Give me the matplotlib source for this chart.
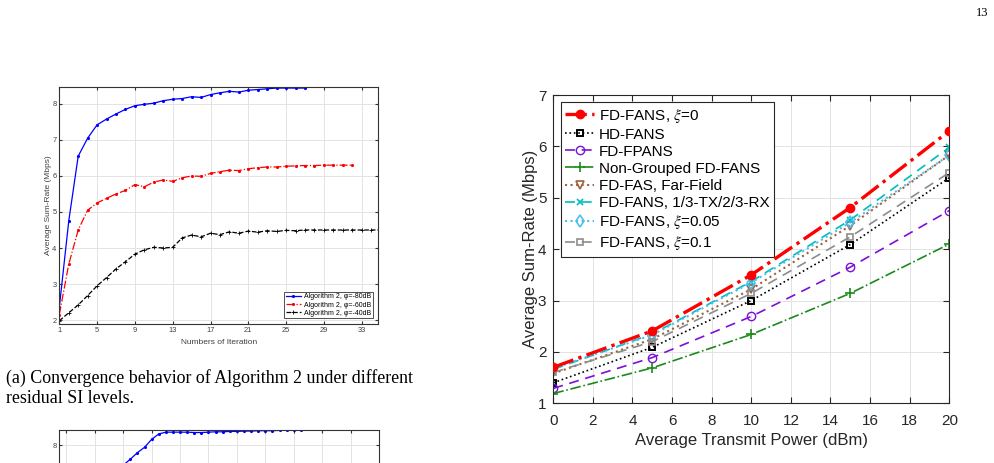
import matplotlib
matplotlib.use('Agg')
import matplotlib.pyplot as plt

plt.rcParams['font.family'] = ['Liberation Sans', 'DejaVu Sans']
plt.rcParams['mathtext.fontset'] = 'stix'

# ---------------- data: convergence (top-left) ----------------
iters_80 = list(range(1, 28))
rate_80 = [2.35, 4.75, 6.55, 7.05, 7.42, 7.58, 7.72, 7.85, 7.95, 7.99, 8.02, 8.09, 8.13, 8.15,
           8.20, 8.18, 8.26, 8.31, 8.35, 8.33, 8.38, 8.40, 8.42, 8.44, 8.44, 8.44, 8.44]
iters_60 = list(range(1, 33))
rate_60 = [2.15, 3.55, 4.50, 5.05, 5.25, 5.38, 5.50, 5.60, 5.76, 5.70, 5.83, 5.89, 5.85, 5.95,
           6.00, 5.99, 6.07, 6.12, 6.16, 6.15, 6.20, 6.23, 6.25, 6.25, 6.27, 6.28, 6.29, 6.29,
           6.30, 6.30, 6.30, 6.30]
iters_40 = list(range(1, 36))
rate_40 = [1.98, 2.20, 2.42, 2.68, 2.95, 3.18, 3.42, 3.62, 3.83, 3.95, 4.02, 4.00, 4.02, 4.28,
           4.36, 4.31, 4.41, 4.37, 4.45, 4.41, 4.47, 4.44, 4.48, 4.46, 4.49, 4.48, 4.50, 4.50,
           4.50, 4.50, 4.50, 4.50, 4.50, 4.50, 4.50]
conv_labels = ['Algorithm 2, \u03c6=-80dB', 'Algorithm 2, \u03c6=-60dB', 'Algorithm 2, \u03c6=-40dB']
conv_xticks = [1, 5, 9, 13, 17, 21, 25, 29, 33]
conv_yticks = [2, 3, 4, 5, 6, 7, 8]

# ---------------- data: second convergence plot (cut off at bottom) ----------------
iters_b = list(range(8, 35))
rate_b = [7.20, 7.45, 7.62, 7.80, 7.95, 8.17, 8.32, 8.37, 8.37, 8.37, 8.37, 8.36, 8.36, 8.37,
          8.38, 8.38, 8.39, 8.39, 8.40, 8.40, 8.41, 8.41, 8.41, 8.42, 8.42, 8.42, 8.42]
b_xticks = [1, 5, 9, 13, 17, 21, 25, 29, 33, 37, 41]
b_yticks = [8]

# ---------------- data: sum-rate vs power (right) ----------------
power = [0, 5, 10, 15, 20]
fd_fans_0 = [1.70, 2.41, 3.50, 4.81, 6.30]
hd_fans = [1.40, 2.09, 3.00, 4.09, 5.39]
fd_fpans = [1.29, 1.89, 2.69, 3.65, 4.75]
nongrouped = [1.19, 1.69, 2.34, 3.14, 4.10]
fd_fas_ff = [1.58, 2.25, 3.22, 4.46, 5.83]
fd_fans_13 = [1.66, 2.35, 3.37, 4.57, 5.98]
fd_fans_005 = [1.68, 2.33, 3.35, 4.52, 5.83]
fd_fans_01 = [1.60, 2.20, 3.14, 4.24, 5.49]
series_labels = ['FD-FANS, $\\xi$=0', 'HD-FANS', 'FD-FPANS', 'Non-Grouped FD-FANS',
                 'FD-FAS, Far-Field', 'FD-FANS, 1/3-TX/2/3-RX', 'FD-FANS, $\\xi$=0.05',
                 'FD-FANS, $\\xi$=0.1']
right_xticks = [0, 2, 4, 6, 8, 10, 12, 14, 16, 18, 20]
right_yticks = [1, 2, 3, 4, 5, 6, 7]

W, H = 995, 463
fig = plt.figure(figsize=(W / 100, H / 100), dpi=100)


def frac(x0, y0, x1, y1):
    return [x0 / W, 1 - y1 / H, (x1 - x0) / W, (y1 - y0) / H]


def matlab_style(ax, fs, spine_c='#262626', tick_c='#404040', lw=0.8, tlen=3, xpad=2, ypad=2):
    for s in ax.spines.values():
        s.set_color(spine_c)
        s.set_linewidth(lw)
    ax.tick_params(direction='in', top=True, right=True, length=tlen, width=lw,
                   labelsize=fs, labelcolor=tick_c, color=spine_c)
    ax.tick_params(axis='x', pad=xpad)
    ax.tick_params(axis='y', pad=ypad)
    ax.grid(True, color='#e3e3e3', linewidth=0.7)
    ax.set_axisbelow(True)


# ---------- top-left ----------
ax1 = fig.add_axes(frac(59.3, 87, 378, 324))
ax1.plot(iters_80, rate_80, '-', color='#0000ff', lw=0.9, marker='.', ms=2.5, label=conv_labels[0])
ax1.plot(iters_60, rate_60, '-.', color='#ff0000', lw=0.9, marker='.', ms=2.5, label=conv_labels[1])
ax1.plot(iters_40, rate_40, '--', color='black', lw=0.9, marker='+', ms=2.5, mew=0.6, label=conv_labels[2])
ax1.set_xlim(1, 34.72)
ax1.set_ylim(1.89, 8.47)
ax1.set_xticks(conv_xticks)
ax1.set_yticks(conv_yticks)
matlab_style(ax1, 5.4, spine_c='#333333', tlen=2.5)
ax1.set_xlabel('Numbers of Iteration', fontsize=6, color='#404040', labelpad=3.5)
ax1.set_ylabel('Average Sum-Rate (Mbps)', fontsize=6, color='#404040', labelpad=0)
lg1 = ax1.legend(loc='lower right', bbox_to_anchor=(0.983, 0.024), borderaxespad=0, fontsize=5,
                 handlelength=2.2, handletextpad=0.4, labelspacing=0.15, borderpad=0.25,
                 frameon=True, fancybox=False, edgecolor='#333333', framealpha=1)
lg1.get_frame().set_linewidth(0.6)

# ---------- bottom-left (cut off) ----------
ax2 = fig.add_axes(frac(59.3, 430, 379, 430 + 236))
ax2.plot(iters_b, rate_b, '-', color='#0000ff', lw=0.9, marker='.', ms=2.5)
ax2.set_xlim(0, 45)
ax2.set_ylim(1.87, 8.43)
ax2.set_xticks(b_xticks)
ax2.set_yticks(b_yticks)
matlab_style(ax2, 5.4, spine_c='#333333', tlen=2.5)
ax2.tick_params(axis='x', labelbottom=False)

# ---------- right ----------
ax3 = fig.add_axes(frac(553.3, 95, 949.3, 403.3))
ax3.plot(power, fd_fans_0, '-.', color='#ff0000', lw=2.4, marker='o', ms=6, mfc='#ff0000', label=series_labels[0], zorder=10)
ax3.plot(power, hd_fans, ':', color='black', lw=1.2, marker='s', ms=5, mfc='none', mew=1.4, label=series_labels[1])
ax3.plot(power, fd_fpans, color='#7d10d8', lw=1.2, dashes=(6, 4), marker='o', ms=6, mfc='none', mew=1.0, label=series_labels[2])
ax3.plot(power, nongrouped, '-.', color='#1a8a1a', lw=1.2, marker='+', ms=7, mew=1.2, label=series_labels[3])
ax3.plot(power, fd_fas_ff, ':', color='#a0603a', lw=1.5, marker='v', ms=6, mfc='none', mew=1.2, label=series_labels[4])
ax3.plot(power, fd_fans_13, color='#00bcbc', lw=1.2, dashes=(6, 4), marker='x', ms=5, mew=1.2, label=series_labels[5])
ax3.plot(power, fd_fans_005, ':', color='#4dbeee', lw=1.5, marker='d', ms=6, mfc='none', mew=1.2, label=series_labels[6])
ax3.plot(power, fd_fans_01, color='#8c8c8c', lw=1.2, dashes=(6, 4), marker='s', ms=5, mfc='none', mew=1.2, label=series_labels[7])
ax3.set_xlim(0, 20)
ax3.set_ylim(1, 7)
ax3.set_xticks(right_xticks)
ax3.set_yticks(right_yticks)
matlab_style(ax3, 11, spine_c='#262626', tick_c='#262626', tlen=4, xpad=7.5, ypad=5)
ax3.set_xlabel('Average Transmit Power (dBm)', fontsize=12, color='#262626', labelpad=3.5)
ax3.set_ylabel('Average Sum-Rate (Mbps)', fontsize=12, color='#262626', labelpad=0)
leg = ax3.legend(loc='upper left', bbox_to_anchor=(0.0187, 0.977), borderaxespad=0, fontsize=11,
                 handlelength=1.9, handletextpad=0.3, labelspacing=0.2, borderpad=0.3,
                 frameon=True, fancybox=False, edgecolor='#262626', framealpha=1)
leg.get_frame().set_linewidth(0.8)

# ---------- page texts ----------
fig.text(6 / W, 1 - 382.7 / H, '(a) Convergence behavior of Algorithm 2 under different',
         family='Liberation Serif', fontsize=12.9, va='baseline', ha='left')
fig.text(6 / W, 1 - 402.7 / H, 'residual SI levels.',
         family='Liberation Serif', fontsize=12.9, va='baseline', ha='left')
fig.text(988 / W, 1 - 16 / H, '13', family='Liberation Serif', fontsize=9, va='baseline', ha='right')

fig.savefig('out.png', dpi=100)
